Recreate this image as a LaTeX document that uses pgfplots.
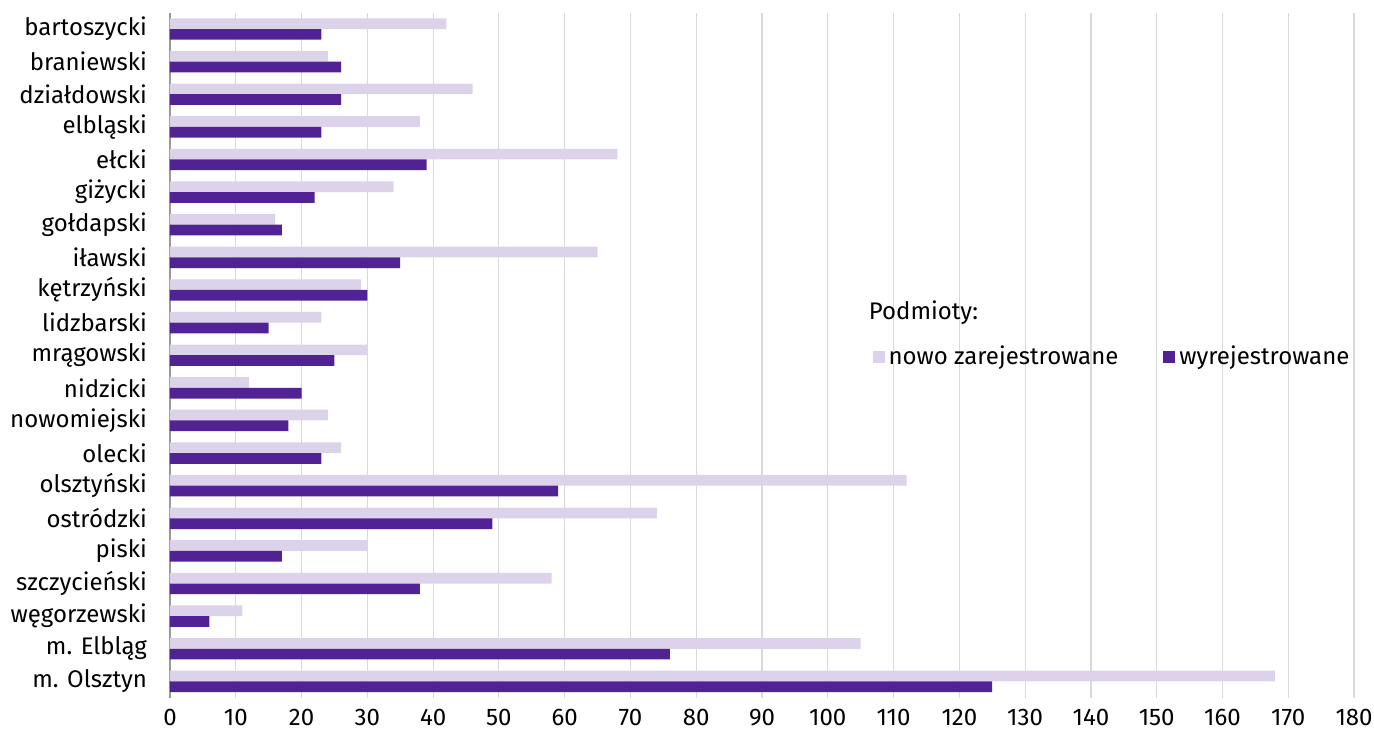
\documentclass[border=0pt]{standalone}
\usepackage{pgfplots}
\pgfplotsset{compat=1.18}
\usetikzlibrary{calc}
\usepackage{fontspec}
\setmainfont{Fira Sans}
\definecolor{lightp}{HTML}{DCD2EA}
\definecolor{darkp}{HTML}{512293}
\definecolor{gridc}{HTML}{D9D9D9}
\begin{document}
\begin{tikzpicture}
\begin{axis}[
  name=ax,
  /pgf/number format/assume math mode=true,
  scale only axis,
  width=592pt, height=342.5pt,
  xbar, bar width=5.35pt,
  xmin=0, xmax=180, xtick distance=10,
  ymin=-0.5, ymax=20.5, y dir=reverse,
  ytick={0,...,20},
  yticklabels={bartoszycki,braniewski,działdowski,elbląski,ełcki,giżycki,gołdapski,iławski,kętrzyński,lidzbarski,mrągowski,nidzicki,nowomiejski,olecki,olsztyński,ostródzki,piski,szczycieński,węgorzewski,m. Elbląg,m. Olsztyn},
  xmajorgrids, grid style={gridc, line width=0.6pt},
  major tick length=0pt,
  axis x line*=bottom, axis y line*=left,
  x axis line style={draw=none},
  y axis line style={draw=gray!80, line width=0.6pt},
  tick label style={font=\fontsize{12}{14}\selectfont, text=black},
  yticklabel style={xshift=-8pt},
  xticklabel style={yshift=-2pt},
  legend style={draw=none, fill=none, at={(rel axis cs:0.588,0.498)}, anchor=west,
    font=\fontsize{12}{14}\selectfont, legend columns=2,
    /tikz/every even column/.append style={column sep=20.5pt}},
  legend cell align=left,
  legend image code/.code={\fill[#1] (0pt,-3pt) rectangle (6pt,3pt);},
]
\addplot[fill=lightp, draw=none, bar shift=2.675pt] coordinates {
(42,0) (24,1) (46,2) (38,3) (68,4) (34,5) (16,6) (65,7) (29,8) (23,9) (30,10) (12,11) (24,12) (26,13) (112,14) (74,15) (30,16) (58,17) (11,18) (105,19) (168,20)};
\addlegendentry{nowo zarejestrowane}
\addplot[fill=darkp, draw=none, bar shift=-2.675pt] coordinates {
(23,0) (26,1) (26,2) (23,3) (39,4) (22,5) (17,6) (35,7) (30,8) (15,9) (25,10) (20,11) (18,12) (23,13) (59,14) (49,15) (17,16) (38,17) (6,18) (76,19) (125,20)};
\addlegendentry{wyrejestrowane}
\node[anchor=west, font=\fontsize{12}{14}\selectfont, inner sep=0pt] at (rel axis cs:0.590,0.562) {Podmioty:};
\end{axis}
\pgfresetboundingbox
\path[use as bounding box] ($(ax.south west)+(-85pt,-20pt)$) rectangle ($(ax.north east)+(10pt,6.35pt)$);
\end{tikzpicture}
\end{document}
